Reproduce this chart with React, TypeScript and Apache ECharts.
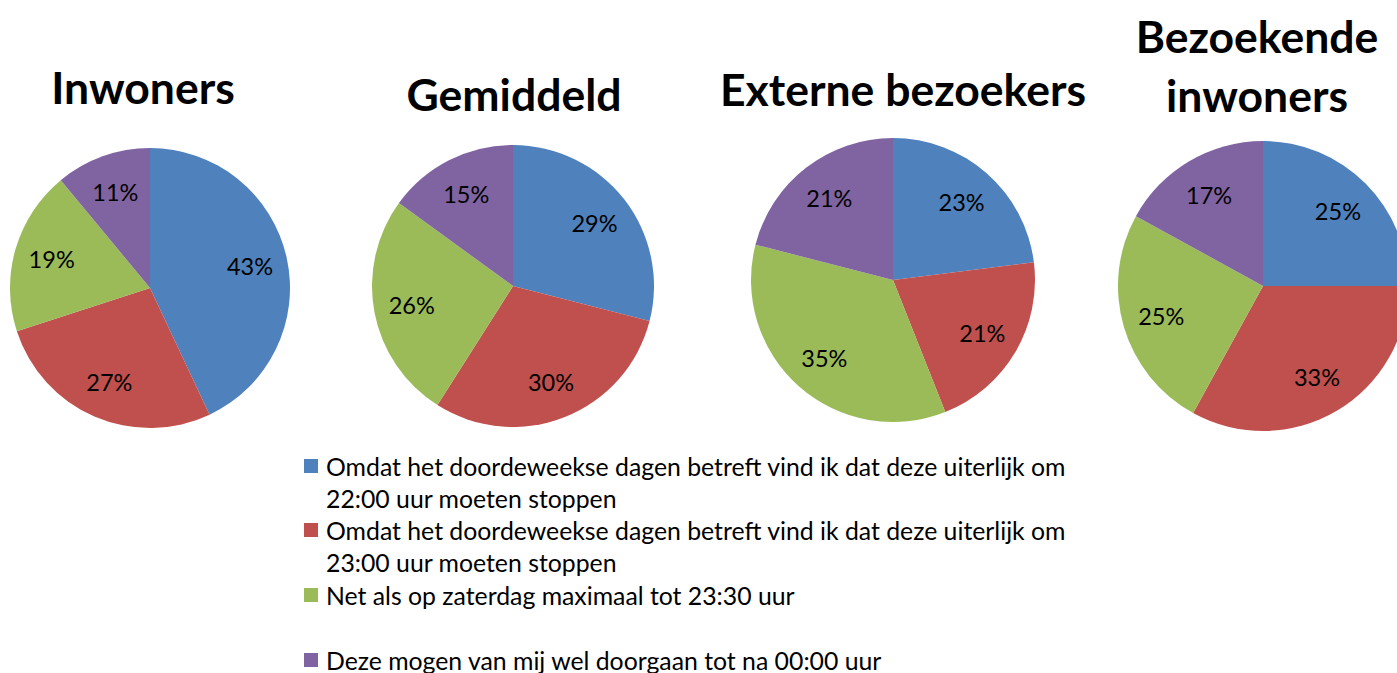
import React, { useEffect, useRef } from "react";
import * as echarts from "echarts";

const categories = [
  "Omdat het doordeweekse dagen betreft vind ik dat deze uiterlijk om\n22:00 uur moeten stoppen",
  "Omdat het doordeweekse dagen betreft vind ik dat deze uiterlijk om\n23:00 uur moeten stoppen",
  "Net als op zaterdag maximaal tot 23:30 uur",
  "Deze mogen van mij wel doorgaan tot na 00:00 uur",
];
const groups = ["Inwoners", "Gemiddeld", "Externe bezoekers", "Bezoekende\ninwoners"];
const inwoners = [43, 27, 19, 11];
const gemiddeld = [29, 30, 26, 15];
const externeBezoekers = [23, 21, 35, 21];
const bezoekendeInwoners = [25, 33, 25, 17];
const colors = ["#4F81BD", "#C0504D", "#9BBB59", "#8064A2"];

const FONT = "Lato";

export default function App() {
  const ref = useRef<HTMLDivElement>(null);
  useEffect(() => {
    if (!ref.current) return;
    const chart = echarts.init(ref.current, undefined, { renderer: "svg" });
    const seriesValues = [inwoners, gemiddeld, externeBezoekers, bezoekendeInwoners];
    const pies = [
      { c: [150, 288], r: 140 },
      { c: [513, 286], r: 141 },
      { c: [893, 280], r: 142 },
      { c: [1263, 286], r: 145 },
    ];
    const titlePos = [
      [143, 86],
      [514, 93],
      [903, 88],
      [1257, 65],
    ];
    const mkData = (vals: number[]) => vals.map((v, i) => ({ name: categories[i], value: v }));
    const visible = pies.map((p, k) => ({
      type: "pie",
      name: groups[k],
      center: p.c,
      radius: [0, p.r],
      startAngle: 90,
      clockwise: true,
      silent: true,
      label: { show: false },
      labelLine: { show: false },
      itemStyle: { borderWidth: 0 },
      color: colors,
      data: mkData(seriesValues[k]),
    }));
    const overlays = pies.map((p, k) => ({
      type: "pie",
      name: groups[k] + " labels",
      center: p.c,
      radius: [p.r * 0.42, p.r],
      startAngle: 90,
      clockwise: true,
      silent: true,
      avoidLabelOverlap: false,
      itemStyle: { color: "rgba(0,0,0,0)", borderWidth: 0 },
      label: {
        show: true,
        position: "inside",
        formatter: "{c}%",
        color: "#000",
        fontFamily: FONT,
        fontSize: 23.5,
      },
      labelLine: { show: false },
      data: mkData(seriesValues[k]),
    }));
    const legendTops = [418, 482, 579, 644];
    const legends = categories.map((name, i) => ({
      orient: "vertical",
      left: 304,
      top: legendTops[i],
      padding: 0,
      icon: "rect",
      itemWidth: 14,
      itemHeight: 14,
      selectedMode: false,
      data: [name],
      formatter: (n: string) => (n.includes("\n") ? " \n" + n : n),
      textStyle: {
        color: "#000",
        fontFamily: FONT,
        fontSize: 24.8,
        lineHeight: 32,
        padding: [0, 0, 0, 3],
      },
    }));
    chart.setOption({
      animation: false,
      color: colors,
      legend: legends,
      graphic: groups.map((g, i) => ({
        type: "text",
        x: titlePos[i][0],
        y: titlePos[i][1],
        style: {
          text: g,
          fill: "#000",
          font: `bold 44.5px ${FONT}`,
          lineHeight: 59,
          align: "center",
          verticalAlign: "middle",
        },
      })),
      series: [...visible, ...overlays],
    });
    return () => chart.dispose();
  }, []);
  return (
    <div
      ref={ref}
      style={{ position: "fixed", left: 0, top: 0, width: 1397, height: 673, background: "#fff" }}
    />
  );
}
